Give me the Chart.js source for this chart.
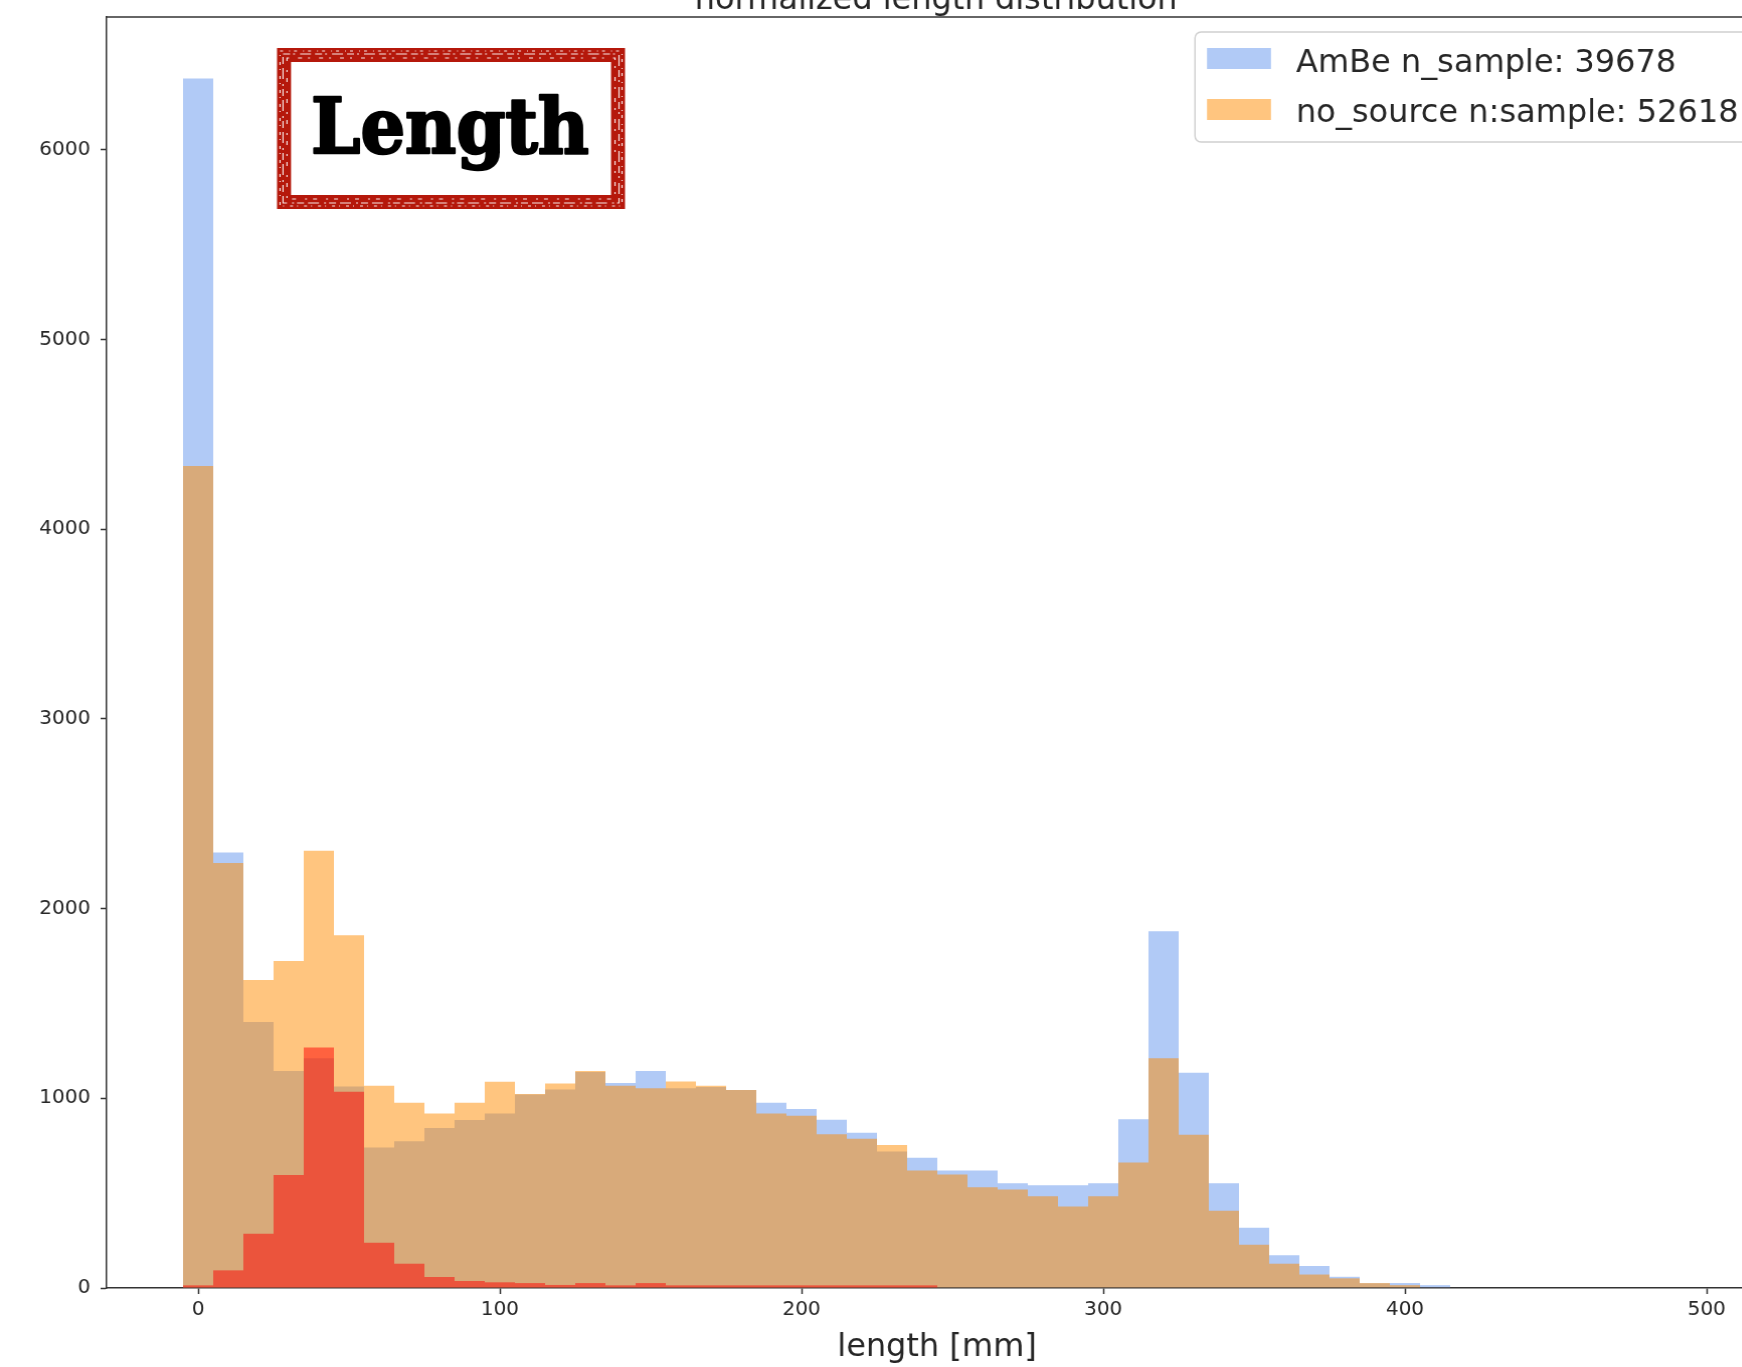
<!DOCTYPE html>
<html>
<head>
<meta charset="utf-8">
<script src="https://cdn.jsdelivr.net/npm/chart.js@4.4.1/dist/chart.umd.min.js"></script>
<style>
    html, body { margin: 0; padding: 0; background: #fff; overflow: hidden; }
    body { width: 1742px; height: 1367px; position: relative; }
    /* chart is laid out on a 3 px-per-mm grid, then stretched a touch to the picture's scale */
    #wrap { position: absolute; left: 0; top: -40px; width: 1900px; height: 1407px;
            transform: scaleX(1.005667); transform-origin: 0 0; }
</style>
</head>
<body>
<div id="wrap"><canvas id="histChart"></canvas></div>
<script>
// --- DATA (10 mm bins, centres 0..500) ---
const binCenters = [0, 10, 20, 30, 40, 50, 60, 70, 80, 90, 100, 110, 120, 130, 140, 150, 160, 170, 180, 190,
    200, 210, 220, 230, 240, 250, 260, 270, 280, 290, 300, 310, 320, 330, 340, 350, 360, 370, 380, 390,
    400, 410, 420, 430, 440, 450, 460, 470, 480, 490, 500];

const ambeCounts = [6375, 2296, 1402, 1144, 1211, 1062, 741, 773, 843, 885, 920, 1020, 1046, 1138, 1080, 1144, 1053, 1060, 1043, 976,
    943, 887, 818, 720, 687, 619, 619, 552, 542, 542, 552, 889, 1880, 1134, 552, 317, 172, 116, 59, 25,
    26, 15, 0, 0, 0, 0, 0, 0, 0, 0, 0];

const noSourceCounts = [4332, 2240, 1623, 1724, 2305, 1859, 1066, 976, 920, 976, 1087, 1022, 1078, 1144, 1066, 1053, 1088, 1066, 1043, 920,
    908, 810, 787, 754, 619, 598, 531, 519, 484, 429, 484, 662, 1211, 808, 407, 228, 128, 71, 51, 26,
    15, 2, 0, 0, 0, 0, 0, 0, 0, 0, 0];

const redCounts = [14, 93, 286, 596, 1267, 1034, 238, 128, 58, 37, 30, 26, 16, 26, 14, 26, 14, 14, 14, 14,
    14, 14, 14, 14, 14, 0, 0, 0, 0, 0, 0, 0, 0, 0, 0, 0, 0, 0, 0, 0,
    0, 0, 0, 0, 0, 0, 0, 0, 0, 0, 0];

const xTicks = [0, 100, 200, 300, 400, 500];
const yTicks = [0, 1000, 2000, 3000, 4000, 5000, 6000];

const titleText = 'normalized length distribution';
const xLabel = 'length [mm]';
const legendLabels = ['AmBe n_sample: 39678', 'no_source n:sample: 52618'];

// --- COLOURS ---
const blueFill = 'rgba(100, 149, 237, 0.5)';
const orangeFill = 'rgba(255, 140, 0, 0.5)';
const redFill = 'rgba(255, 0, 0, 0.5)';
const axisColor = '#333333';
const textColor = '#262626';

const STRETCH = 1.005667; // must match the CSS scaleX above

const toPoints = (vals) => binCenters.map((c, i) => ({ x: c, y: vals[i] }));

// --- EXTRA DRAWING: spine, title, x label, legend, stamp ---
const decorPlugin = {
    id: 'decor',
    afterDatasetsDraw(chart) {
        const ctx = chart.ctx;
        const area = chart.chartArea;
        ctx.save();

        // top spine
        ctx.strokeStyle = axisColor;
        ctx.lineWidth = 1.5;
        ctx.beginPath();
        ctx.moveTo(area.left, area.top);
        ctx.lineTo(area.right, area.top);
        ctx.stroke();

        // everything below is placed in picture coordinates
        ctx.scale(1 / STRETCH, 1);

        // title (cut off at the top of the picture)
        ctx.fillStyle = textColor;
        ctx.font = '32px "DejaVu Sans"';
        ctx.textAlign = 'center';
        ctx.textBaseline = 'alphabetic';
        ctx.fillText(titleText, 936, 49);

        // x label
        ctx.fillText(xLabel, 937, 1396);

        // legend
        const lx = 1195, ly = 72, lw = 560, lh = 110;
        ctx.fillStyle = 'rgba(255,255,255,0.8)';
        ctx.strokeStyle = '#d0d0d0';
        ctx.lineWidth = 1.5;
        ctx.beginPath();
        ctx.roundRect(lx, ly, lw, lh, 6);
        ctx.fill();
        ctx.stroke();

        const swatches = [blueFill, orangeFill];
        const rowY = [88, 139];
        const baseY = [112, 162];
        ctx.textAlign = 'left';
        ctx.font = '32px "DejaVu Sans"';
        legendLabels.forEach((lab, i) => {
            ctx.fillStyle = swatches[i];
            ctx.fillRect(1207, rowY[i], 64, 21);
            ctx.fillStyle = textColor;
            ctx.fillText(lab, 1296, baseY[i]);
        });

        // "Length" stamp
        const sx = 284, sy = 95, sw = 334, sh = 147;
        ctx.fillStyle = '#fff';
        ctx.fillRect(sx, sy, sw, sh);
        ctx.strokeStyle = '#b5180b';
        ctx.lineWidth = 14;
        ctx.strokeRect(sx, sy, sw, sh);
        ctx.strokeStyle = 'rgba(255,255,255,0.9)';
        ctx.lineWidth = 1.2;
        ctx.setLineDash([7, 3, 2, 5, 11, 4]);
        ctx.strokeRect(sx - 1, sy - 1, sw + 2, sh + 2);
        ctx.setLineDash([3, 6, 1, 4]);
        ctx.strokeRect(sx - 4, sy - 4, sw + 8, sh + 8);
        ctx.setLineDash([2, 9, 4, 6]);
        ctx.strokeRect(sx + 3, sy + 3, sw - 6, sh - 6);
        ctx.setLineDash([]);

        ctx.fillStyle = '#000';
        ctx.strokeStyle = '#000';
        ctx.lineWidth = 2.5;
        ctx.lineJoin = 'round';
        ctx.font = 'bold 76px "DejaVu Serif"';
        ctx.textAlign = 'center';
        const w = ctx.measureText('Length').width;
        ctx.translate(450, 193);
        ctx.scale(278 / w, 1);
        ctx.fillText('Length', 0, 0);
        ctx.strokeText('Length', 0, 0);

        ctx.restore();
    }
};

const chart = new Chart(document.getElementById('histChart'), {
    type: 'bar',
    data: {
        datasets: [
            { label: legendLabels[0], data: toPoints(ambeCounts), backgroundColor: blueFill, order: 3 },
            { label: legendLabels[1], data: toPoints(noSourceCounts), backgroundColor: orangeFill, order: 2 },
            { label: 'red', data: toPoints(redCounts), backgroundColor: redFill, order: 1 }
        ]
    },
    options: {
        responsive: true,
        maintainAspectRatio: false,
        animation: false,
        devicePixelRatio: 1,
        // chart area: x 106..1789 (3 px per mm), y 57..1328
        layout: { padding: { top: 57, right: 111, left: 0, bottom: 0 } },
        datasets: {
            bar: {
                grouped: false,
                barPercentage: 1,
                categoryPercentage: 1,
                borderWidth: 0,
                inflateAmount: 0
            }
        },
        plugins: {
            legend: { display: false },
            title: { display: false },
            tooltip: { enabled: false }
        },
        scales: {
            x: {
                type: 'linear',
                offset: false,
                min: -91 / 3,
                max: 1592 / 3,
                afterBuildTicks: (scale) => { scale.ticks = xTicks.map(v => ({ value: v })); },
                afterFit: (scale) => { scale.height = 79; },
                ticks: {
                    font: { family: 'DejaVu Sans', size: 20 },
                    color: textColor,
                    padding: 4,
                    maxRotation: 0,
                    autoSkip: false,
                    callback: (v) => String(v)
                },
                grid: { offset: false, drawOnChartArea: false, tickLength: 6, tickColor: axisColor, tickWidth: 1.5 },
                border: { color: axisColor, width: 1.5 }
            },
            y: {
                type: 'linear',
                min: 0,
                max: 6699,
                afterBuildTicks: (scale) => { scale.ticks = yTicks.map(v => ({ value: v })); },
                afterFit: (scale) => { scale.width = 106; },
                ticks: {
                    font: { family: 'DejaVu Sans', size: 20 },
                    color: textColor,
                    padding: 10,
                    autoSkip: false,
                    callback: (v) => String(v)
                },
                grid: { drawOnChartArea: false, tickLength: 6, tickColor: axisColor, tickWidth: 1.5 },
                border: { color: axisColor, width: 1.5 }
            }
        }
    },
    plugins: [decorPlugin]
});
</script>
</body>
</html>
